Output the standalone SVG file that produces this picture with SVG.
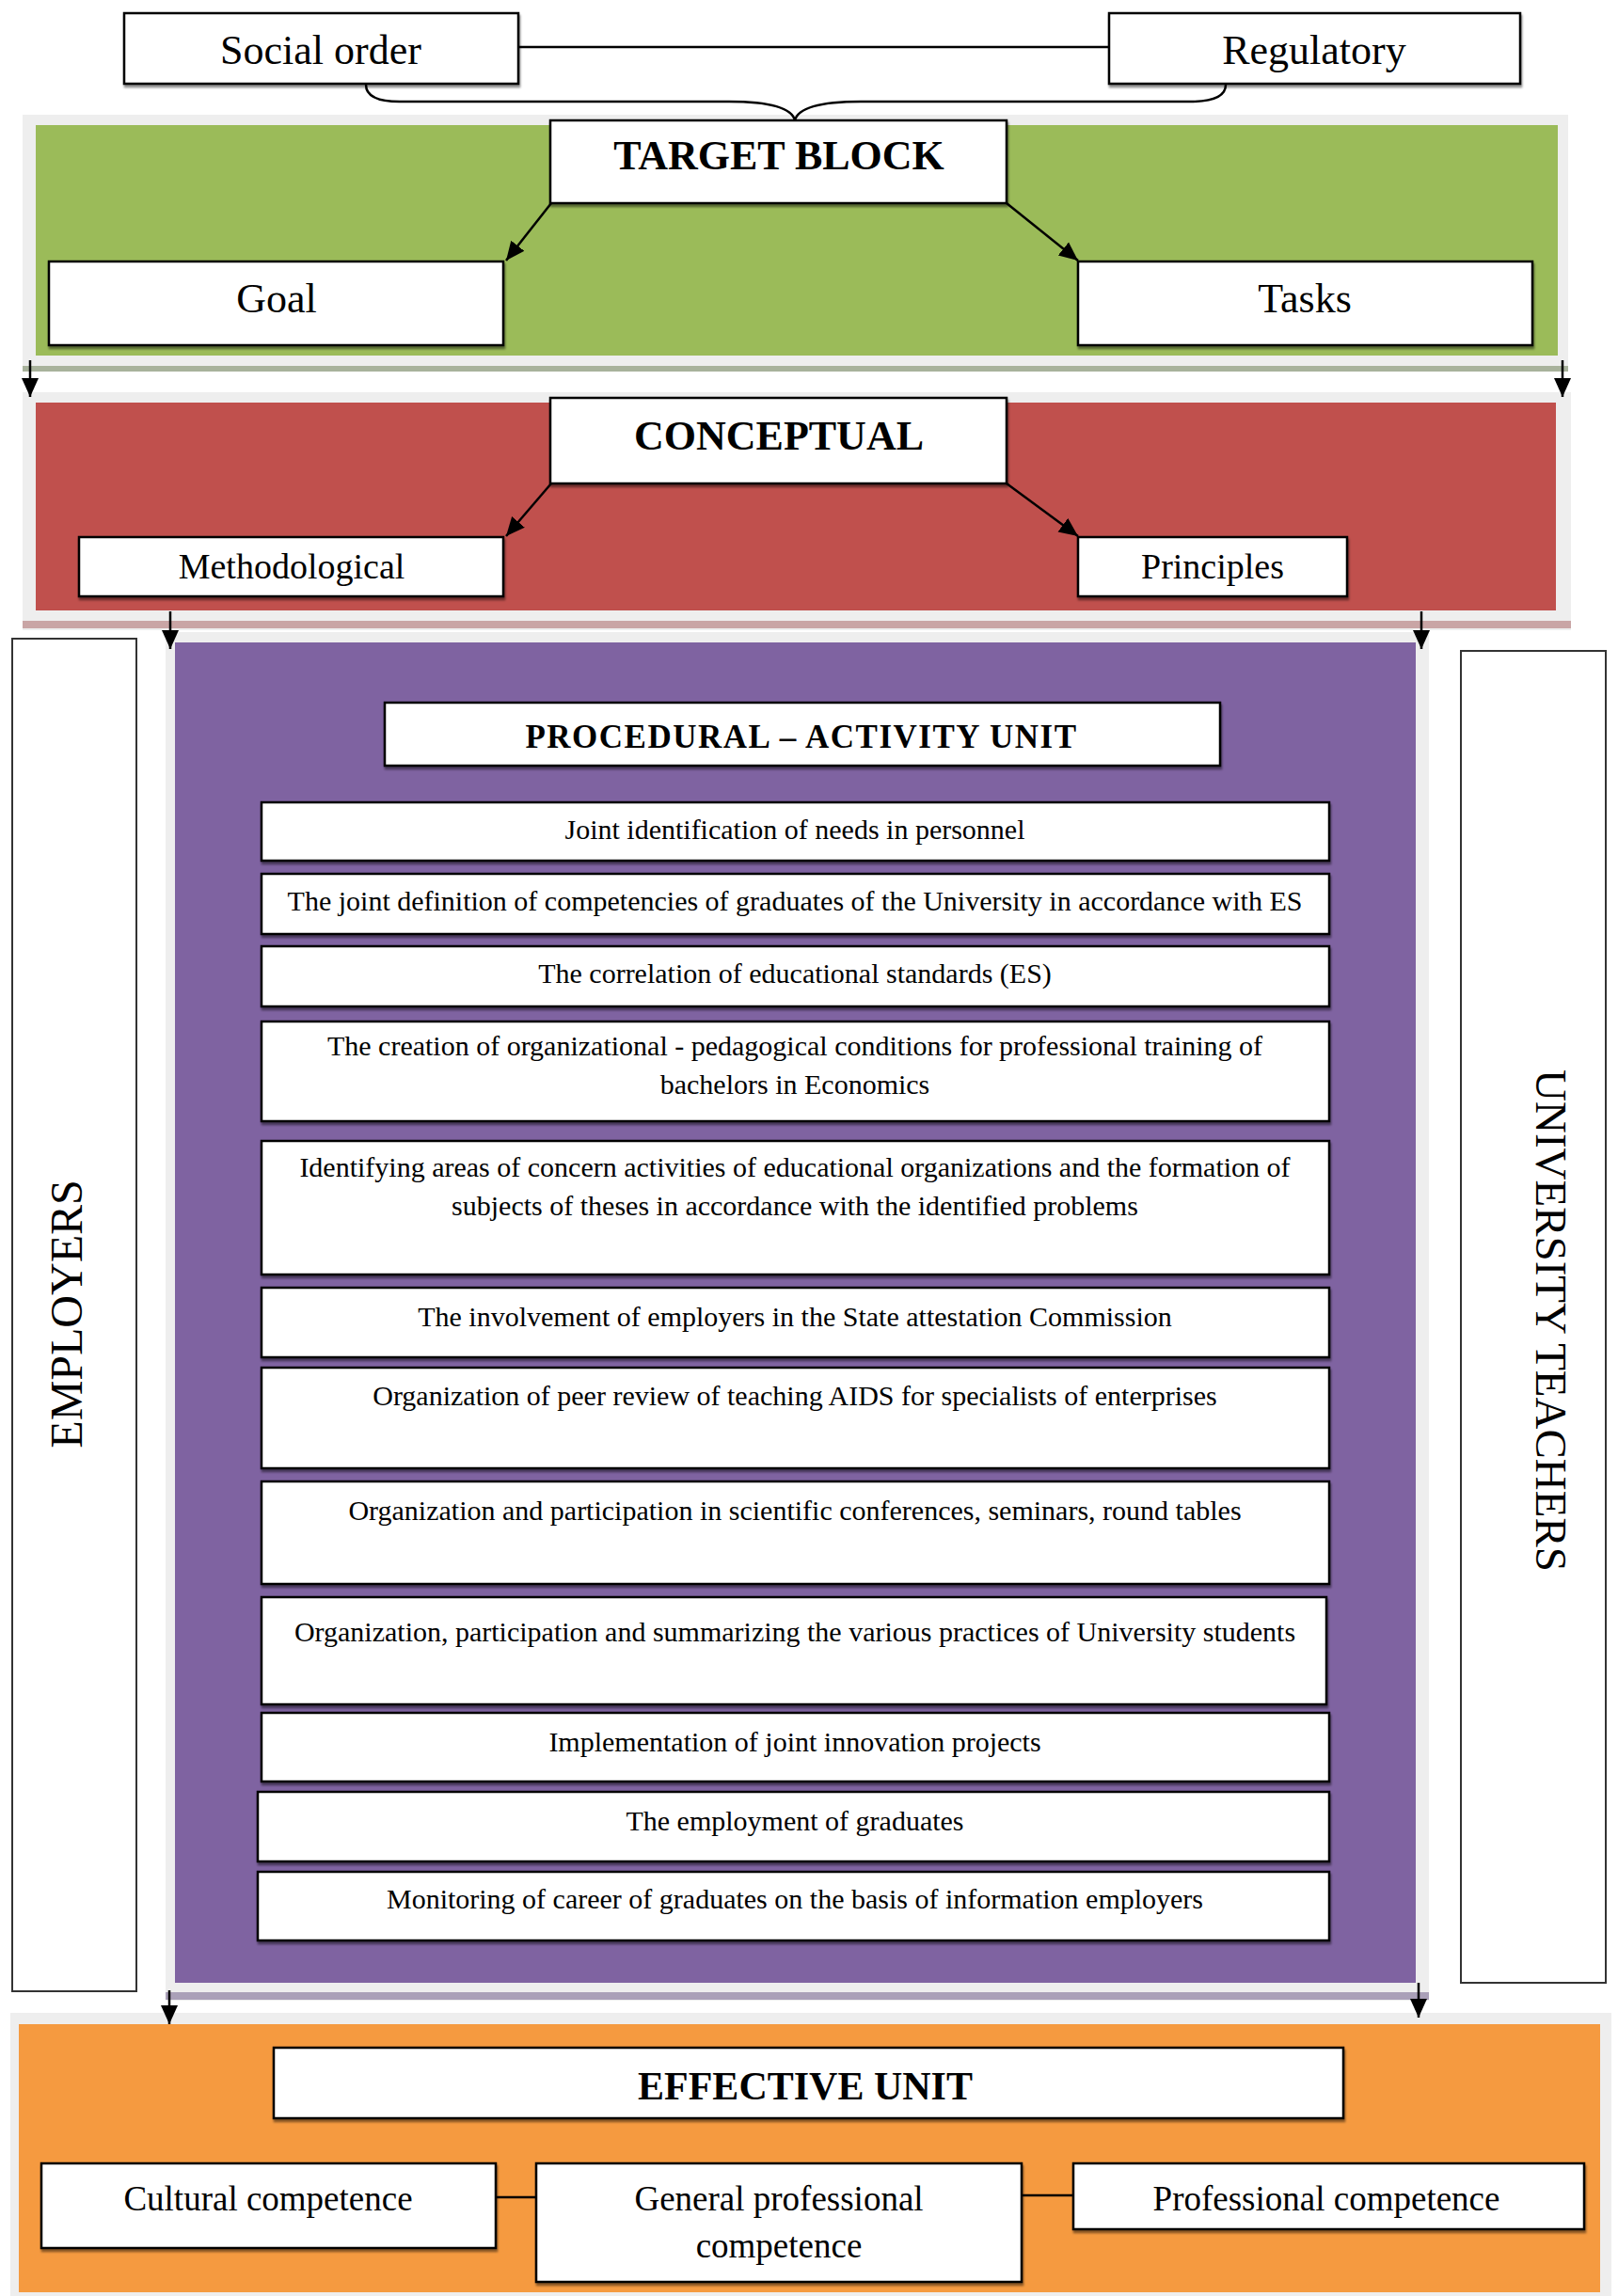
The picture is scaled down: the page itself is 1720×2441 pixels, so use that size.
<svg xmlns="http://www.w3.org/2000/svg" width="1720" height="2441" viewBox="0 0 1720 2441">
<defs>
<style>
.box{fill:#fff;stroke:#000;stroke-width:2.5;filter:url(#sh)}
.side{fill:#fff;stroke:#333;stroke-width:2}
.frame{fill:#eeeeee}
.t{font-family:"Liberation Serif","Times New Roman",serif;fill:#000;text-anchor:middle}
.big{font-size:44px;font-weight:bold}
.lab{font-size:44px}
.mid{font-size:38px}
.sm{font-size:30px}
.con{stroke:#000;stroke-width:2.5;fill:none}
</style>
<filter id="sh" x="-5%" y="-5%" width="110%" height="130%">
<feDropShadow dx="1" dy="3" stdDeviation="1" flood-color="#000" flood-opacity="0.45"/>
</filter>
<marker id="ah" markerWidth="22" markerHeight="22" refX="20" refY="10" orient="auto" markerUnits="userSpaceOnUse">
<path d="M0,1 L20,10 L0,19 Z" fill="#000"/>
</marker>
</defs>
<rect width="1720" height="2441" fill="#fff"/>

<!-- panels -->
<g id="panel-target">
<rect class="frame" x="24" y="122" width="1643" height="273"/>
<rect x="24" y="389" width="1643" height="6" fill="#a8b29c"/>
<rect x="38" y="133" width="1618" height="245" fill="#9bbb59"/>
</g>
<g id="panel-conceptual">
<rect class="frame" x="24" y="417" width="1646" height="253"/>
<rect x="24" y="660" width="1646" height="8" fill="#c9a5a5"/>
<rect x="38" y="428" width="1616" height="221" fill="#c0504d"/>
</g>
<g id="panel-procedural">
<rect class="frame" x="176" y="672" width="1343" height="1455"/>
<rect x="176" y="2118" width="1343" height="8" fill="#aaa0b8"/>
<rect x="186" y="683" width="1319" height="1425" fill="#7f63a1"/>
</g>
<g id="panel-effective">
<rect class="frame" x="11" y="2140" width="1702" height="301"/>
<rect x="20" y="2152" width="1681" height="285" fill="#f59a40"/>
</g>

<!-- connectors -->
<g id="connectors">
<line class="con" x1="551" y1="50" x2="1179" y2="50" stroke-width="3"/>
<path class="con" d="M389,90 Q389,108 425,108 L775,108 Q840,108 845,128 Q850,108 915,108 L1265,108 Q1303,108 1303,90"/>
<line class="con" x1="586" y1="216" x2="538" y2="277" marker-end="url(#ah)"/>
<line class="con" x1="1070" y1="216" x2="1146" y2="277" marker-end="url(#ah)"/>
<line class="con" x1="586" y1="514" x2="538" y2="570" marker-end="url(#ah)"/>
<line class="con" x1="1070" y1="514" x2="1146" y2="570" marker-end="url(#ah)"/>
<line class="con" x1="32" y1="383" x2="32" y2="422" marker-end="url(#ah)"/>
<line class="con" x1="1661" y1="383" x2="1661" y2="422" marker-end="url(#ah)"/>
<line class="con" x1="181" y1="650" x2="181" y2="690" marker-end="url(#ah)"/>
<line class="con" x1="1511" y1="650" x2="1511" y2="690" marker-end="url(#ah)"/>
<line class="con" x1="180" y1="2116" x2="180" y2="2152" marker-end="url(#ah)"/>
<line class="con" x1="1508" y1="2108" x2="1508" y2="2145" marker-end="url(#ah)"/>
<line class="con" x1="527" y1="2336" x2="570" y2="2336" stroke="#2a1a08" stroke-width="3.5"/>
<line class="con" x1="1086" y1="2334" x2="1141" y2="2334" stroke="#2a1a08" stroke-width="3.5"/>
</g>

<g id="social-order"><rect class="box" x="132" y="14" width="419" height="75"/><text class="t lab" x="341" y="68">Social order</text></g>
<g id="regulatory"><rect class="box" x="1179" y="14" width="437" height="75"/><text class="t lab" x="1397" y="68">Regulatory</text></g>
<g id="target-block"><rect class="box" x="585" y="128" width="485" height="88"/><text class="t big" x="828" y="180">TARGET BLOCK</text></g>
<g id="goal"><rect class="box" x="52" y="278" width="483" height="89"/><text class="t lab" x="294" y="332">Goal</text></g>
<g id="tasks"><rect class="box" x="1146" y="278" width="483" height="89"/><text class="t lab" x="1387" y="332">Tasks</text></g>

<g id="conceptual"><rect class="box" x="585" y="423" width="485" height="91"/><text class="t big" x="828" y="478">CONCEPTUAL</text></g>
<g id="methodological"><rect class="box" x="84" y="571" width="451" height="63"/><text class="t mid" x="310" y="615">Methodological</text></g>
<g id="principles"><rect class="box" x="1146" y="571" width="286" height="63"/><text class="t mid" x="1289" y="615">Principles</text></g>

<g id="employers"><rect class="side" x="13" y="679" width="132" height="1438"/><text class="t" font-size="48" transform="translate(87,1397) rotate(-90)">EMPLOYERS</text></g>
<g id="university-teachers"><rect class="side" x="1553" y="692" width="154" height="1416"/><text class="t" font-size="47" transform="translate(1633,1404) rotate(90)">UNIVERSITY TEACHERS</text></g>

<g id="procedural"><rect class="box" x="409" y="747" width="888" height="67"/><text class="t" font-size="35" font-weight="bold" letter-spacing="1.5" x="852" y="795">PROCEDURAL – ACTIVITY UNIT</text></g>
<g id="p1"><rect class="box" x="278" y="853" width="1135" height="62"/><text class="t sm" x="845" y="892">Joint identification of needs in personnel</text></g>
<g id="p2"><rect class="box" x="278" y="929" width="1135" height="64"/><text class="t sm" x="845" y="968">The joint definition of competencies of graduates of the University in accordance with ES</text></g>
<g id="p3"><rect class="box" x="278" y="1006" width="1135" height="64"/><text class="t sm" x="845" y="1045">The correlation of educational standards (ES)</text></g>
<g id="p4"><rect class="box" x="278" y="1086" width="1135" height="106"/><text class="t sm" x="845" y="1122">The creation of organizational - pedagogical conditions for professional training of</text><text class="t sm" x="845" y="1163">bachelors in Economics</text></g>
<g id="p5"><rect class="box" x="278" y="1213" width="1135" height="142"/><text class="t sm" x="845" y="1251">Identifying areas of concern activities of educational organizations and the formation of</text><text class="t sm" x="845" y="1292">subjects of theses in accordance with the identified problems</text></g>
<g id="p6"><rect class="box" x="278" y="1369" width="1135" height="74"/><text class="t sm" x="845" y="1410">The involvement of employers in the State attestation Commission</text></g>
<g id="p7"><rect class="box" x="278" y="1454" width="1135" height="107"/><text class="t sm" x="845" y="1494">Organization of peer review of teaching AIDS for specialists of enterprises</text></g>
<g id="p8"><rect class="box" x="278" y="1575" width="1135" height="109"/><text class="t sm" x="845" y="1616">Organization and participation in scientific conferences, seminars, round tables</text></g>
<g id="p9"><rect class="box" x="278" y="1698" width="1132" height="114"/><text class="t sm" x="845" y="1745">Organization, participation and summarizing the various practices of University students</text></g>
<g id="p10"><rect class="box" x="278" y="1821" width="1135" height="73"/><text class="t sm" x="845" y="1862">Implementation of joint innovation projects</text></g>
<g id="p11"><rect class="box" x="274" y="1905" width="1139" height="74"/><text class="t sm" x="845" y="1946">The employment of graduates</text></g>
<g id="p12"><rect class="box" x="274" y="1990" width="1139" height="73"/><text class="t sm" x="845" y="2029">Monitoring of career of graduates on the basis of information employers</text></g>

<g id="effective-unit"><rect class="box" x="291" y="2177" width="1137" height="75"/><text class="t" font-size="42" font-weight="bold" x="856" y="2232">EFFECTIVE UNIT</text></g>
<g id="cultural"><rect class="box" x="44" y="2300" width="483" height="90"/><text class="t" font-size="37" x="285" y="2350">Cultural competence</text></g>
<g id="general"><rect class="box" x="570" y="2300" width="516" height="126"/><text class="t" font-size="37" x="828" y="2350">General professional</text><text class="t" font-size="37" x="828" y="2400">competence</text></g>
<g id="professional"><rect class="box" x="1141" y="2300" width="543" height="70"/><text class="t" font-size="37" x="1410" y="2350">Professional competence</text></g>
</svg>
